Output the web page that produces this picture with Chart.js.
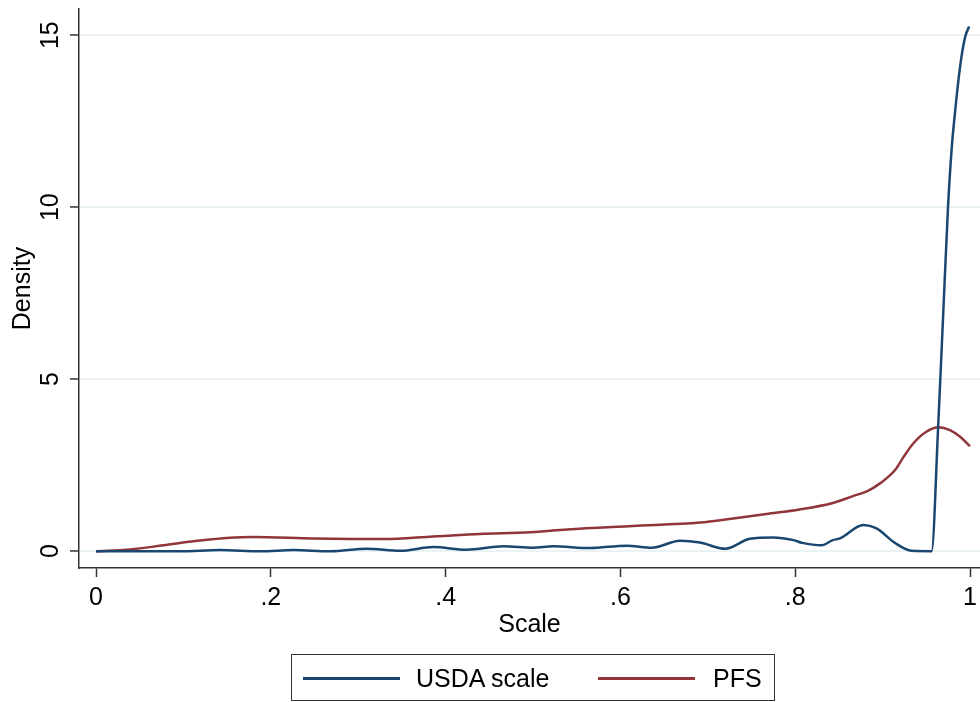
<!DOCTYPE html>
<html>
<head>
<meta charset="utf-8">
<script src="https://cdn.jsdelivr.net/npm/chart.js@4.4.1/dist/chart.umd.min.js"></script>
<style>
  body { margin: 0; background: #fff; }
  #wrap { position: relative; width: 980px; height: 702px; }
  #legend {
    position: absolute; left: 291px; top: 654px; width: 482px; height: 45px;
    border: 1.5px solid #333; box-sizing: content-box;
    font-family: "Liberation Sans", Arial, sans-serif; font-size: 25px; color: #000;
  }
  #legend .sw { position: absolute; top: 22px; width: 97px; height: 2.5px; }
  #legend .tx { position: absolute; top: 8px; line-height: 30px; white-space: nowrap; }
</style>
</head>
<body>
<div id="wrap">
  <canvas id="chart" width="980" height="702"></canvas>
  <div id="legend">
    <div class="sw" style="left:11px;background:#1a476f"></div>
    <div class="tx" style="left:124px">USDA scale</div>
    <div class="sw" style="left:306px;background:#90353b"></div>
    <div class="tx" style="left:421px">PFS</div>
  </div>
</div>
<script>
// USDA scale density
const usdaX = [0, 0.05, 0.096, 0.142, 0.188, 0.226, 0.268, 0.310, 0.348, 0.386, 0.424, 0.466, 0.500,
  0.523, 0.565, 0.607, 0.636, 0.668, 0.691, 0.720, 0.748, 0.775, 0.798, 0.808, 0.830, 0.843, 0.851,
  0.878, 0.893, 0.914, 0.933, 0.956, 0.9635, 0.970, 0.9748, 0.979, 0.983, 0.987, 0.991, 0.995, 0.999];
const usdaY = [0, 0, 0, 0.03, 0, 0.03, 0, 0.07, 0.01, 0.12, 0.04, 0.14, 0.10,
  0.14, 0.09, 0.16, 0.10, 0.30, 0.25, 0.07, 0.36, 0.40, 0.32, 0.24, 0.17, 0.32, 0.37,
  0.76, 0.66, 0.24, 0.01, 0, 3.6, 7.3, 10.0, 11.7, 12.8, 13.75, 14.5, 15.0, 15.25];

// PFS density
const pfsX = [0, 0.039, 0.077, 0.116, 0.153, 0.180, 0.248, 0.325, 0.363, 0.402, 0.439, 0.497, 0.539,
  0.614, 0.691, 0.729, 0.767, 0.805, 0.843, 0.866, 0.882, 0.897, 0.914, 0.924, 0.935, 0.950, 0.964,
  0.977, 0.989, 1.0];
const pfsY = [0, 0.05, 0.17, 0.30, 0.39, 0.41, 0.37, 0.35, 0.39, 0.45, 0.50, 0.55, 0.63,
  0.73, 0.83, 0.95, 1.08, 1.21, 1.40, 1.60, 1.74, 1.97, 2.35, 2.74, 3.13, 3.47, 3.60,
  3.52, 3.32, 3.05];

const xTickValues = [0, 0.2, 0.4, 0.6, 0.8, 1];
const xTickLabels = ['0', '.2', '.4', '.6', '.8', '1'];
const yTickValues = [0, 5, 10, 15];

const usdaPoints = usdaX.map((x, i) => ({ x: x, y: usdaY[i] }));
const pfsPoints = pfsX.map((x, i) => ({ x: x, y: pfsY[i] }));

const font = { family: '"Liberation Sans", Arial, sans-serif', size: 25 };

const ctx = document.getElementById('chart').getContext('2d');
new Chart(ctx, {
  type: 'line',
  data: {
    datasets: [
      {
        label: 'USDA scale',
        data: usdaPoints,
        borderColor: '#1a476f',
        borderWidth: 2.5,
        pointRadius: 0,
        cubicInterpolationMode: 'monotone'
      },
      {
        label: 'PFS',
        data: pfsPoints,
        borderColor: '#90353b',
        borderWidth: 2.5,
        pointRadius: 0,
        cubicInterpolationMode: 'monotone'
      }
    ]
  },
  options: {
    responsive: false,
    animation: false,
    devicePixelRatio: 1,
    layout: {
      padding: { top: 9, left: 0, right: 0, bottom: 62 }
    },
    plugins: {
      legend: { display: false },
      tooltip: { enabled: false }
    },
    scales: {
      x: {
        type: 'linear',
        min: -0.0195,
        max: 1.0114,
        afterBuildTicks: (axis) => {
          axis.ticks = xTickValues.map(v => ({ value: v }));
        },
        afterFit: (s) => {
          s.height = 72;
          s.paddingLeft = 0;
          s.paddingRight = 0;
        },
        ticks: {
          font: font,
          color: '#000',
          padding: 6,
          maxRotation: 0,
          autoSkip: false,
          callback: (value) => xTickLabels[xTickValues.indexOf(value)]
        },
        title: {
          display: true,
          text: 'Scale',
          font: font,
          color: '#000',
          padding: 0
        },
        grid: {
          drawOnChartArea: false,
          drawTicks: true,
          tickLength: 9,
          tickColor: '#333',
          tickWidth: 1.5
        },
        border: { display: true, color: '#333', width: 1.5 }
      },
      y: {
        min: -0.49,
        max: 15.76,
        afterBuildTicks: (axis) => {
          axis.ticks = yTickValues.map(v => ({ value: v }));
        },
        afterFit: (s) => {
          s.width = 79;
          s.paddingTop = 0;
          s.paddingBottom = 0;
        },
        ticks: {
          font: font,
          color: '#000',
          padding: 5,
          minRotation: 90,
          maxRotation: 90,
          crossAlign: 'center',
          autoSkip: false
        },
        title: {
          display: true,
          text: 'Density',
          font: font,
          color: '#000',
          padding: { top: 8, bottom: 0 }
        },
        grid: {
          drawOnChartArea: true,
          color: '#eaf2f3',
          lineWidth: 2,
          drawTicks: true,
          tickLength: 9,
          tickColor: '#333',
          tickWidth: 1.5
        },
        border: { display: true, color: '#333', width: 1.5 }
      }
    }
  }
});
</script>
</body>
</html>
